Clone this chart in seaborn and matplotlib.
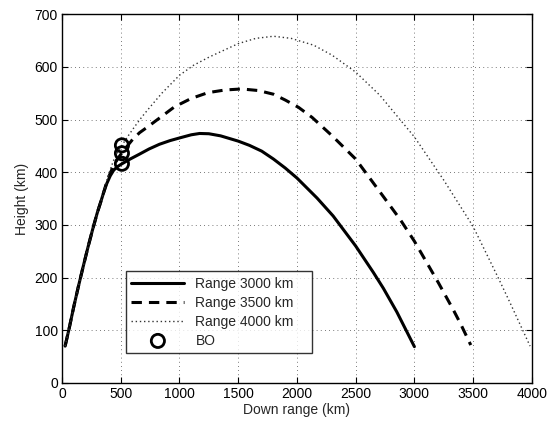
import matplotlib
matplotlib.use("Agg")
import matplotlib.pyplot as plt
import seaborn as sns

# Trajectory points (down range km, height km)
x_3000 = [26, 60, 100, 140, 180, 220, 260, 300, 330, 355, 380, 410, 440, 475, 510, 580, 657,
          740, 829, 920, 1000, 1100, 1171, 1250, 1350, 1500, 1595, 1700, 1800, 1900, 2000,
          2171, 2308, 2500, 2650, 2735, 2850, 3000]
y_3000 = [70, 103, 145, 184, 221, 257, 291, 323, 344, 362, 378, 393, 404, 411, 416, 425, 434,
          444, 453, 460, 465, 471, 473.5, 473, 469, 459, 451, 440, 425, 408, 389,
          351, 317, 260, 210, 180, 135, 69]

x_3500 = [26, 60, 100, 140, 180, 220, 260, 300, 330, 355, 380, 410, 440, 475, 510, 560, 600,
          660, 729, 843, 957, 1100, 1243, 1386, 1529, 1671, 1800, 1900, 2014, 2129, 2300,
          2500, 2735, 2880, 3000, 3205, 3331, 3394, 3480]
y_3500 = [70, 103, 145, 184, 221, 257, 291, 323, 344, 362, 381, 398, 413, 426, 437, 451, 462,
          475, 486, 505, 524, 540, 551, 556, 558, 555, 548, 537, 523, 504, 469,
          425, 354, 310, 269, 190, 139, 112, 72]

x_4000 = [26, 60, 100, 140, 180, 220, 260, 300, 330, 355, 380, 410, 440, 475, 510, 560, 620,
          680, 743, 850, 1000, 1120, 1257, 1500, 1650, 1800, 1950, 2143, 2300, 2500, 2706,
          3000, 3250, 3500, 3713, 3813, 3898, 3985]
y_4000 = [70, 103, 145, 184, 221, 257, 291, 323, 344, 362, 384, 405, 423, 438, 451, 468, 487,
          505, 522, 550, 584, 603, 619, 644, 654, 658, 654, 641, 622, 590, 546,
          467, 385, 297, 200, 153, 112, 70]

bo_x = [510, 510, 510]
bo_y = [416, 436, 451]

labels = ["Range 3000 km", "Range 3500 km", "Range 4000 km", "BO"]
x_ticks = [0, 500, 1000, 1500, 2000, 2500, 3000, 3500, 4000]
y_ticks = [0, 100, 200, 300, 400, 500, 600, 700]

sns.set_theme(style="white")
plt.rcParams['font.family'] = ['Liberation Sans', 'DejaVu Sans']
plt.rcParams['xtick.direction'] = 'in'
plt.rcParams['ytick.direction'] = 'in'

fig = plt.figure(figsize=(5.54, 4.24), dpi=100)
ax = fig.add_axes([0.112, 0.0967, 0.848, 0.870])

sns.lineplot(x=x_3000, y=y_3000, ax=ax, sort=False, color="black", linewidth=2.2,
             linestyle="-", label=labels[0])
ax.lines[-1].set_solid_joinstyle("round")
sns.lineplot(x=x_3500, y=y_3500, ax=ax, sort=False, color="black", linewidth=2.2,
             label=labels[1])
ax.lines[-1].set_dashes([3.4, 2.3])
sns.lineplot(x=x_4000, y=y_4000, ax=ax, sort=False, color="#333333", linewidth=1.0,
             label=labels[2])
ax.lines[-1].set_dashes([1.0, 2.0])
sns.scatterplot(x=bo_x, y=bo_y, ax=ax, s=90, facecolor="none", edgecolor="black",
                linewidth=2.0, marker="o", label=labels[3], zorder=5)

ax.set_xlim(0, 4000)
ax.set_ylim(0, 700)
ax.set_xticks(x_ticks)
ax.set_yticks(y_ticks)
ax.tick_params(axis="both", labelsize=10, length=4, width=0.8, colors="black",
               top=True, right=True, bottom=True, left=True, pad=3)
ax.grid(True, color="black", linestyle=(0, (1, 4)), linewidth=0.6, alpha=0.7)
for s in ax.spines.values():
    s.set_color("black")
    s.set_linewidth(1.0)
ax.set_xlabel("Down range (km)", fontsize=10, labelpad=1)
ax.set_ylabel("Height (km)", fontsize=10, labelpad=4)

leg = ax.legend(loc="lower left", bbox_to_anchor=(0.136, 0.081, 0.396, 0.233), mode="expand",
                fontsize=10, frameon=True, fancybox=False, handlelength=3.8,
                borderpad=0.4, labelspacing=0.35, handletextpad=0.8, borderaxespad=0)
leg.get_frame().set_edgecolor("black")
leg.get_frame().set_linewidth(1.0)

fig.savefig("out.png", dpi=100)
